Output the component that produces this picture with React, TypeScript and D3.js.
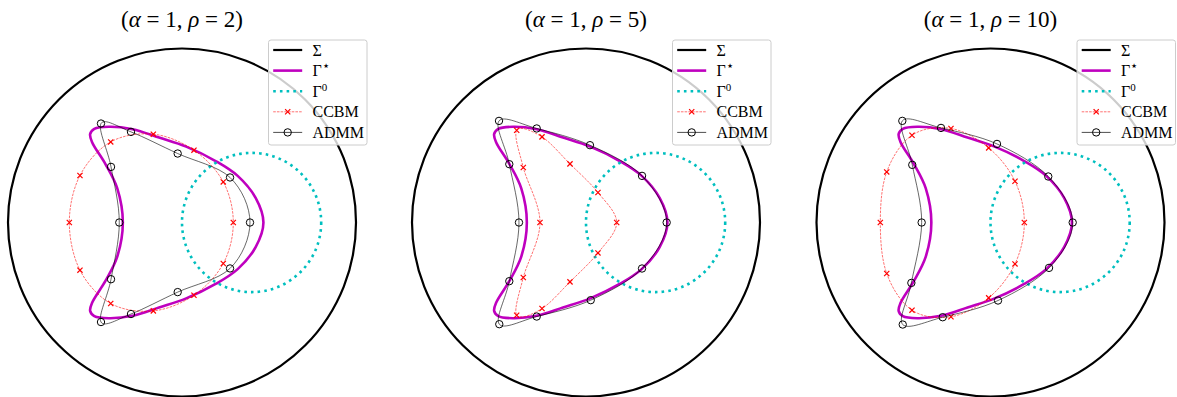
import React, { useEffect, useRef } from 'react';
import * as d3 from 'd3';

type Pt = [number, number];

// panel titles (rho values), alpha is 1 everywhere
const alphaValue = '1';
const rhoValues = ['2', '5', '10'];

// Σ: outer circle, Γ0: initial guess circle (data units)
const sigmaRadius = 2.5;
const gamma0Center: Pt = [1, 0];
const gamma0Radius = 1;

// Γ*: true boundary
const gammaStar: Pt[] = [
  [1.17, 0], [1.06, 0.35], [0.8, 0.67], [0.49, 0.88], [0.06, 1.09], [-0.33, 1.22],
  [-0.71, 1.34], [-1.05, 1.375], [-1.26, 1.345], [-1.32, 1.27], [-1.29, 1.15],
  [-1.1, 0.84], [-0.93, 0.49], [-0.85, 0], [-0.93, -0.49], [-1.1, -0.84],
  [-1.29, -1.15], [-1.32, -1.27], [-1.26, -1.345], [-1.05, -1.375], [-0.71, -1.34],
  [-0.33, -1.22], [0.06, -1.09], [0.49, -0.88], [0.8, -0.67], [1.06, -0.35],
];

// CCBM reconstructions
const ccbmRho2: Pt[] = [
  [-1.024, 1.158], [-0.412, 1.269], [0.172, 1.039], [0.593, 0.583], [0.737, 0],
  [0.593, -0.589], [0.172, -1.045], [-0.412, -1.27], [-1.024, -1.164],
  [-1.466, -0.685], [-1.619, 0], [-1.466, 0.675],
];
const ccbmRho5: Pt[] = [
  [-0.996, 1.326], [-0.632, 1.23], [-0.23, 0.842], [0.172, 0.431], [0.441, 0],
  [0.172, -0.437], [-0.23, -0.853], [-0.632, -1.236], [-0.996, -1.332],
  [-0.901, -0.79], [-0.661, 0], [-0.901, 0.79],
];
const ccbmRho10: Pt[] = [
  [-1.128, 1.254], [-0.568, 1.351], [-0.026, 1.072], [0.352, 0.593], [0.486, 0],
  [0.352, -0.595], [-0.026, -1.083], [-0.568, -1.354], [-1.128, -1.26],
  [-1.491, -0.733], [-1.583, 0], [-1.491, 0.727],
];

// ADMM reconstructions
const admmRho2: Pt[] = [
  [-1.164, 1.422], [-0.733, 1.302], [-0.062, 0.991], [0.69, 0.647], [0.977, 0],
  [0.69, -0.66], [-0.062, -1.0], [-0.733, -1.315], [-1.164, -1.43],
  [-1.02, -0.815], [-0.901, 0], [-1.02, 0.799],
];
const admmRho5: Pt[] = [
  [-1.25, 1.46], [-0.708, 1.351], [0.057, 1.111], [0.805, 0.67], [1.159, 0],
  [0.805, -0.661], [0.068, -1.116], [-0.708, -1.351], [-1.246, -1.461],
  [-1.102, -0.843], [-0.963, 0], [-1.102, 0.838],
];
const admmRho10: Pt[] = [
  [-1.267, 1.46], [-0.711, 1.359], [0.093, 1.129], [0.83, 0.661], [1.181, 0],
  [0.841, -0.652], [0.108, -1.121], [-0.687, -1.361], [-1.261, -1.466],
  [-1.137, -0.868], [-0.989, 0], [-1.124, 0.828],
];

const ccbmSets = [ccbmRho2, ccbmRho5, ccbmRho10];
const admmSets = [admmRho2, admmRho5, admmRho10];

const MAGENTA = '#bf00bf';
const CYAN = '#00bfbf';
const RED = '#ff0000';
const FONT = '"Liberation Serif", "DejaVu Serif", serif';

const App = () => {
  const svgRef = useRef<SVGSVGElement>(null);

  useEffect(() => {
    const width = 1177;
    const height = 397;
    const R = 174;
    const cy = 222.5;
    const centers = [182, 586, 990.5];

    const svg = d3.select(svgRef.current).attr('width', width).attr('height', height);
    svg.selectAll('*').remove();

    const xMark = 'M-2.6,-2.6L2.6,2.6M-2.6,2.6L2.6,-2.6';

    rhoValues.forEach((rho, i) => {
      const cx = centers[i];
      const x = d3.scaleLinear().domain([-sigmaRadius, sigmaRadius]).range([cx - R, cx + R]);
      const y = d3.scaleLinear().domain([-sigmaRadius, sigmaRadius]).range([cy + R, cy - R]);
      const smooth = d3
        .line<Pt>()
        .x((d) => x(d[0]))
        .y((d) => y(d[1]))
        .curve(d3.curveCatmullRomClosed.alpha(0.5));
      // reconstructions: uniform spline through the markers
      const spline = d3
        .line<Pt>()
        .x((d) => x(d[0]))
        .y((d) => y(d[1]))
        .curve(d3.curveCatmullRomClosed.alpha(0));

      const g = svg.append('g');

      // Σ
      g.append('circle')
        .attr('cx', x(0))
        .attr('cy', y(0))
        .attr('r', x(sigmaRadius) - x(0))
        .attr('fill', 'none')
        .attr('stroke', '#000')
        .attr('stroke-width', 2.2);

      // Γ*
      g.append('path')
        .attr('d', smooth(gammaStar))
        .attr('fill', 'none')
        .attr('stroke', MAGENTA)
        .attr('stroke-width', 2.6);

      // Γ0
      g.append('circle')
        .attr('cx', x(gamma0Center[0]))
        .attr('cy', y(gamma0Center[1]))
        .attr('r', x(gamma0Radius) - x(0))
        .attr('fill', 'none')
        .attr('stroke', CYAN)
        .attr('stroke-width', 2.6)
        .attr('stroke-dasharray', '2.6 4.1');

      // CCBM
      const ccbm = ccbmSets[i];
      g.append('path')
        .attr('d', spline(ccbm))
        .attr('fill', 'none')
        .attr('stroke', RED)
        .attr('stroke-opacity', 0.8)
        .attr('stroke-width', 0.7)
        .attr('stroke-dasharray', '2.6 1.1');
      g.selectAll('.ccbm-mark')
        .data(ccbm)
        .enter()
        .append('path')
        .attr('class', 'ccbm-mark')
        .attr('transform', (d) => `translate(${x(d[0])},${y(d[1])})`)
        .attr('d', xMark)
        .attr('stroke', RED)
        .attr('stroke-width', 1.2);

      // ADMM
      const admm = admmSets[i];
      g.append('path')
        .attr('d', spline(admm))
        .attr('fill', 'none')
        .attr('stroke', '#000')
        .attr('stroke-opacity', 0.85)
        .attr('stroke-width', 0.7);
      g.selectAll('.admm-mark')
        .data(admm)
        .enter()
        .append('circle')
        .attr('class', 'admm-mark')
        .attr('cx', (d) => x(d[0]))
        .attr('cy', (d) => y(d[1]))
        .attr('r', 3.7)
        .attr('fill', 'none')
        .attr('stroke', '#000')
        .attr('stroke-width', 1);

      // title
      const title = g
        .append('text')
        .attr('x', cx)
        .attr('y', 27)
        .attr('text-anchor', 'middle')
        .attr('font-family', FONT)
        .attr('font-size', 23);
      title.append('tspan').text('(');
      title.append('tspan').attr('font-style', 'italic').text('α');
      title.append('tspan').text(` = ${alphaValue}, `);
      title.append('tspan').attr('font-style', 'italic').text('ρ');
      title.append('tspan').text(` = ${rho})`);

      // legend
      const lx = cx + 86.5;
      const ly = 40;
      const leg = g.append('g').attr('transform', `translate(${lx},${ly})`);
      leg.append('rect')
        .attr('width', 98.5)
        .attr('height', 105)
        .attr('rx', 2.5)
        .attr('fill', 'white')
        .attr('fill-opacity', 0.8)
        .attr('stroke', '#cccccc')
        .attr('stroke-width', 1);

      const rowY = (k: number) => 10 + k * 20.6;
      const x0 = 4.7;
      const x1 = 33.7;
      const xm = (x0 + x1) / 2;
      const seg = (k: number) =>
        leg.append('line').attr('x1', x0).attr('x2', x1).attr('y1', rowY(k)).attr('y2', rowY(k));

      seg(0).attr('stroke', '#000').attr('stroke-width', 2.2);
      seg(1).attr('stroke', MAGENTA).attr('stroke-width', 2.6);
      seg(2).attr('stroke', CYAN).attr('stroke-width', 2.6).attr('stroke-dasharray', '2.6 4.1');
      seg(3).attr('stroke', RED).attr('stroke-opacity', 0.8).attr('stroke-width', 0.7).attr('stroke-dasharray', '2.6 1.1');
      leg.append('path')
        .attr('transform', `translate(${xm},${rowY(3)})`)
        .attr('d', xMark)
        .attr('stroke', RED)
        .attr('stroke-width', 1.2);
      seg(4).attr('stroke', '#000').attr('stroke-width', 0.7);
      leg.append('circle')
        .attr('cx', xm)
        .attr('cy', rowY(4))
        .attr('r', 3.7)
        .attr('fill', 'none')
        .attr('stroke', '#000')
        .attr('stroke-width', 1);

      const label = (k: number) =>
        leg.append('text')
          .attr('x', 44)
          .attr('y', rowY(k) + 5.5)
          .attr('font-family', FONT)
          .attr('font-size', 16);

      label(0).text('Σ');
      const l1 = label(1);
      l1.append('tspan').text('Γ');
      l1.append('tspan').attr('font-size', 13).attr('dy', -6).text('⋆');
      const l2 = label(2);
      l2.append('tspan').text('Γ');
      l2.append('tspan').attr('font-size', 11).attr('dy', -6).text('0');
      label(3).text('CCBM');
      label(4).text('ADMM');
    });
  }, []);

  return (
    <svg
      ref={svgRef}
      style={{ position: 'absolute', left: 0, top: 0, background: 'white' }}
    ></svg>
  );
};

export default App;
